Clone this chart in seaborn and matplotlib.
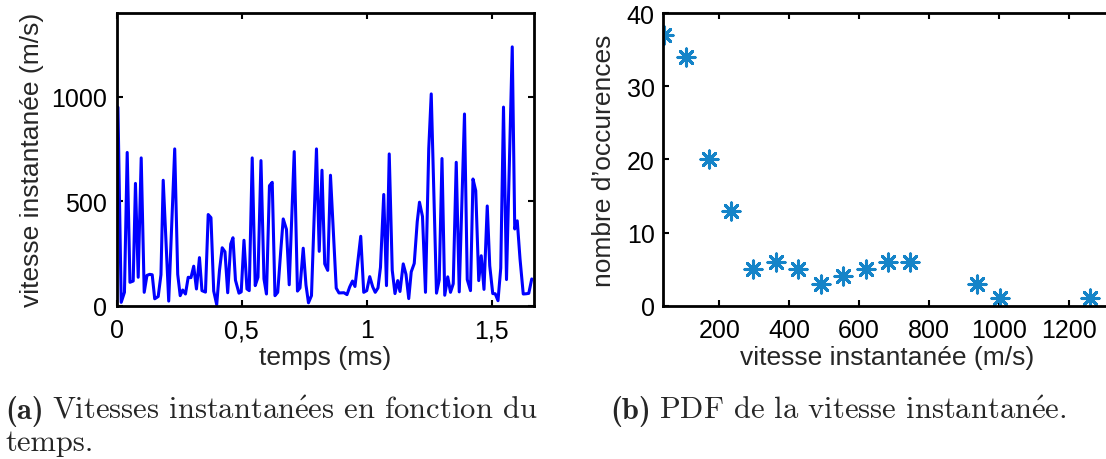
import matplotlib
matplotlib.use("Agg")
import matplotlib.pyplot as plt
import seaborn as sns
import numpy as np
import pandas as pd

# ---------------- data ----------------
temps_ms = [0.005, 0.018, 0.031, 0.042, 0.053, 0.066, 0.075, 0.086, 0.098, 0.110,
            0.121, 0.132, 0.142, 0.152, 0.166, 0.177, 0.186, 0.208, 0.232, 0.244,
            0.254, 0.264, 0.275, 0.286, 0.297, 0.308, 0.319, 0.331, 0.341, 0.355,
            0.366, 0.377, 0.388, 0.400, 0.411, 0.422, 0.433, 0.444, 0.456, 0.465,
            0.475, 0.489, 0.498, 0.509, 0.521, 0.530, 0.542, 0.554, 0.565, 0.577,
            0.589, 0.599, 0.611, 0.622, 0.633, 0.644, 0.656, 0.666, 0.679, 0.690,
            0.710, 0.723, 0.733, 0.746, 0.757, 0.767, 0.779, 0.799, 0.810, 0.821,
            0.832, 0.844, 0.855, 0.878, 0.889, 0.909, 0.921, 0.932, 0.943, 0.953,
            0.976, 0.988, 1.000, 1.012, 1.024, 1.034, 1.045, 1.055, 1.068, 1.079,
            1.090, 1.102, 1.113, 1.124, 1.133, 1.146, 1.157, 1.168, 1.178, 1.190,
            1.202, 1.211, 1.223, 1.235, 1.248, 1.258, 1.279, 1.290, 1.301, 1.312,
            1.324, 1.335, 1.346, 1.358, 1.370, 1.391, 1.402, 1.415, 1.425, 1.436,
            1.448, 1.458, 1.469, 1.482, 1.492, 1.504, 1.514, 1.525, 1.536, 1.547,
            1.559, 1.582, 1.592, 1.602, 1.613, 1.626, 1.637, 1.648, 1.660]
vitesse = [949, 16, 64, 733, 112, 118, 585, 136, 707, 64,
           145, 150, 148, 33, 44, 148, 600, 22, 750, 150,
           48, 75, 56, 136, 134, 189, 80, 230, 72, 65,
           436, 421, 70, 5, 168, 277, 258, 62, 295, 325,
           122, 60, 66, 313, 80, 72, 707, 96, 136, 694,
           128, 56, 574, 590, 48, 64, 260, 415, 365, 100,
           737, 70, 85, 275, 99, 14, 48, 750, 260, 648,
           200, 169, 624, 84, 61, 62, 53, 90, 118, 92,
           332, 64, 72, 139, 90, 64, 85, 184, 532, 96,
           726, 170, 58, 120, 68, 200, 150, 34, 162, 202,
           402, 495, 427, 64, 750, 1013, 60, 124, 704, 50,
           138, 64, 105, 686, 66, 917, 125, 72, 606, 550,
           120, 239, 78, 477, 191, 58, 57, 24, 180, 950,
           125, 1238, 367, 406, 225, 56, 57, 59, 128]

classes_vitesse = [41, 105, 170, 234, 298, 362, 426, 491, 555, 619, 683, 747, 939, 1003, 1261]
occurences = [37, 34, 20, 13, 5, 6, 5, 3, 4, 5, 6, 6, 3, 1, 1]

xticks_a = [0, 0.5, 1, 1.5]
xticklabels_a = ["0", "0,5", "1", "1,5"]
yticks_a = [0, 500, 1000]
xticks_b = [200, 400, 600, 800, 1000, 1200]
yticks_b = [0, 10, 20, 30, 40]

# ---------------- style ----------------
sns.set_theme(style="ticks")
plt.rcParams["font.family"] = ["Liberation Sans", "DejaVu Sans"]
plt.rcParams.update({
    "xtick.direction": "in", "ytick.direction": "in",
    "xtick.top": True, "ytick.right": True,
    "xtick.major.size": 4, "ytick.major.size": 4,
    "xtick.major.width": 1.5, "ytick.major.width": 1.5,
    "axes.linewidth": 2.0,
    "axes.edgecolor": "black",
    "xtick.color": "black", "ytick.color": "black",
    "xtick.labelsize": 18, "ytick.labelsize": 18,
    "axes.labelsize": 19,
    "mathtext.fontset": "cm",
})

W, H = 1106, 460
fig = plt.figure(figsize=(W / 100, H / 100), dpi=100)

def frac(left, top, right, bottom):
    return [left / W, 1 - bottom / H, (right - left) / W, (bottom - top) / H]

# ---- (a) ----
ax1 = fig.add_axes(frac(116.7, 14, 534, 306.7))
df_a = pd.DataFrame({"t": temps_ms, "v": vitesse})
sns.lineplot(data=df_a, x="t", y="v", ax=ax1, color="#0000ff", linewidth=2.2,
             estimator=None, sort=False)
ax1.set_xlim(0, 1.669)
ax1.set_ylim(0, 1400)
ax1.set_xticks(xticks_a)
ax1.set_xticklabels(xticklabels_a)
ax1.set_yticks(yticks_a)
ax1.set_xlabel("temps (ms)", labelpad=2)
ax1.set_ylabel("vitesse instantanée (m/s)", labelpad=5)
ax1.tick_params(axis="x", pad=9)
ax1.tick_params(axis="y", pad=7)

# ---- (b) ----
ax2 = fig.add_axes(frac(663, 14, 1112, 306.7))
df_b = pd.DataFrame({"x": classes_vitesse, "n": occurences})
sns.scatterplot(data=df_b, x="x", y="n", ax=ax2, marker=(8, 2, 0), s=150,
                color="#1584c8", linewidth=2.2)
ax2.set_xlim(39, 1324.5)
ax2.set_ylim(0, 40)
ax2.set_xticks(xticks_b)
ax2.set_yticks(yticks_b)
ax2.set_xlabel("vitesse instantanée (m/s)", labelpad=2)
ax2.set_ylabel("nombre d’occurences", labelpad=8)
ax2.tick_params(axis="x", pad=9)
ax2.tick_params(axis="y", pad=6)

# ---- captions ----
cap_size = 22
fam_serif = ["cmr10", "DejaVu Serif"]
fam_bold = ["cmb10", "DejaVu Serif"]
renderer = fig.canvas.get_renderer()
E = r"$\mathrm{\acute{e}}$"

def caption(x_px, y_px, tag, rest):
    t1 = fig.text(x_px / W, 1 - y_px / H, tag, family=fam_bold, fontsize=cap_size,
                  ha="left", va="baseline")
    bb = t1.get_window_extent(renderer)
    fig.text((bb.x1 + 8) / W, 1 - y_px / H, rest, family=fam_serif, fontsize=cap_size,
             ha="left", va="baseline")

caption(5, 419, "(a)", "Vitesses instantan" + E + "es en fonction du")
fig.text(5 / W, 1 - 451 / H, "temps.", family=fam_serif, fontsize=cap_size,
         ha="left", va="baseline")
caption(610, 419, "(b)", "PDF de la vitesse instantan" + E + "e.")

fig.savefig("out.png", dpi=100)
